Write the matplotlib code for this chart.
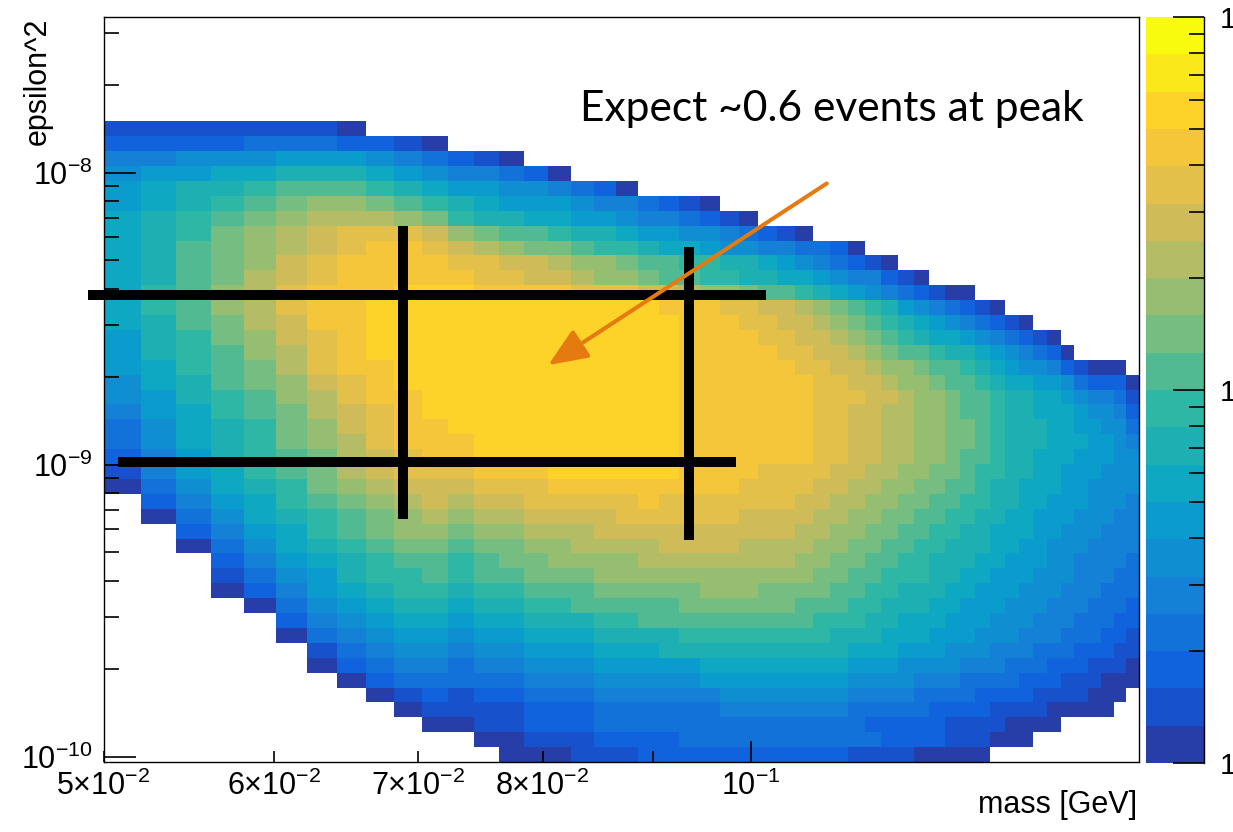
import numpy as np
import matplotlib
matplotlib.use('Agg')
import matplotlib.pyplot as plt
from matplotlib.colors import ListedColormap, LinearSegmentedColormap, LogNorm
from matplotlib.ticker import NullFormatter

plt.rcParams['font.family'] = ['Liberation Sans', 'DejaVu Sans']
plt.rcParams['mathtext.fontset'] = 'custom'
plt.rcParams['mathtext.rm'] = 'Liberation Sans'
plt.rcParams['mathtext.it'] = 'Liberation Sans:italic'
plt.rcParams['mathtext.bf'] = 'Liberation Sans:bold'

# binning of the 2D histogram (mass linear bins, epsilon^2 log bins)
mass_range = (0.05, 0.1515)
n_mass_bins = 50
eps2_range = (9.58e-11, 3.41e-8)
n_eps2_bins = 50

# colour level of each cell, highest filled row first,
# one character per mass bin: '.' = empty, 0-9 then a-h = palette level 0..17
# (20 log levels between 1e-2 and 1)
level_rows = [
    "11111110",
    "22223332210",
    "44555666543210",
    "5667788876544320",
    "67889aaa98766554320",
    "6789abccba9876665443210",
    "789abcdddcb98877665443210",
    "789bcdefffecbaa9887665543210",
    "78abcdefggfedcbba99877655443320",
    "78abcefggggffeedccbaa998876543210",
    "78abdefgggggffeedccbaa9988776544210",
    "79acdfggghhhggggfffeedccbaa98765432100",
    "79acdfgghhhhhhhhhhhhgggffeedcba986543210",
    "78abdegghhhhhhhhhhhhhgggffeedcba9876543210",
    "689bcefghhhhhhhhhhhhhggggffeedcba98776543210",
    "689acdfghhhhhhhhhhhhhgggggffeedcbaa9887654320",
    "679abdfgghhhhhhhhhhhhggggggffeedccbaa987655421000",
    "578abcefghhhhhhhhhhhhgggggggffeedccbaa987766532220",
    "5689acdfgghhhhhhhhhhhgggggggfffeedccbaa98877654431",
    "4679abdefghhhhhhhhhhhgggggggffeeddccbaa98877765542",
    "35789bcefgghhhhhhhhhhgggggggffeeddccbba98887766553",
    "35789bcdfggghhhhhhhhhgggggggffeeddccbba98887776654",
    "24689abdefgghhhhhhhhhgggggggffeeddccbaa98877766655",
    "14679abdefffggghhhhhhggggffffeeddccbba998877666555",
    "035789bcdeeefffgggggggggffffeeddccbbaa988777665555",
    ".24679abcdedeefffffgfffffffeeddccbbaa9988776665554",
    ".035789abcdcddeeeeffffffeeeeddccbbaa99887766655544",
    "..24679abccbccdddeeeeeeeeeeddccbbaa998877766555444",
    "..035789abbabbccddddeeeeddddccbbaa9988877665554444",
    "...246789aa9abbccccddddddddccbbaa99888776665544443",
    "...1356899a9aabbbcccccccccccbbaa999887766655544433",
    "...02467899899aaabbbbbcccbbbbaa9988877666555444333",
    "....035678878899aaaaabbbbbbaaa99888776665554443332",
    ".....24567767788899aaaaaaaaa9998877766655544433322",
    ".....034566566777888899999999888777666555444333221",
    "......13455455666777888888888877766655544433322211",
    "......02344344555666667777777766655554443332221110",
    ".......0233333444555556666666655554443333222111000",
    "........01212233344444455555554444333322221111000",
    ".........011112223333334444444333332222111100000",
    "..........0011222333333333333332222211110000",
    "............001112222333333333332222111000",
    ".............000111222222222221111" "00000",
]

level_chars = '0123456789abcdefghij'

# ROOT kBird palette
bird_stops = [0.0, 0.125, 0.25, 0.375, 0.5, 0.625, 0.75, 0.875, 1.0]
bird_red = [0.2082, 0.0592, 0.0780, 0.0232, 0.1802, 0.5301, 0.8186, 0.9956, 0.9764]
bird_green = [0.1664, 0.3599, 0.5041, 0.6419, 0.7178, 0.7492, 0.7328, 0.7862, 0.9832]
bird_blue = [0.5293, 0.8684, 0.8385, 0.7914, 0.6425, 0.4662, 0.3499, 0.1968, 0.0539]

z = np.full((n_eps2_bins, n_mass_bins), np.nan)
top_row = len(level_rows) - 1
for i, row in enumerate(level_rows):
    for c, ch in enumerate(row):
        if ch != '.':
            z[top_row - i, c] = 10 ** (-2 + (level_chars.index(ch) + 0.5) * 0.1)

bird = LinearSegmentedColormap.from_list(
    'bird', list(zip(bird_stops, zip(bird_red, bird_green, bird_blue))))
cmap = ListedColormap([bird((k + 0.99) / 20) for k in range(20)])
norm = LogNorm(vmin=1e-2, vmax=1)

mass_edges = np.linspace(mass_range[0], mass_range[1], n_mass_bins + 1)
eps2_edges = np.logspace(np.log10(eps2_range[0]), np.log10(eps2_range[1]), n_eps2_bins + 1)

fig = plt.figure(figsize=(12.33, 8.32), dpi=100)
W, H = 1233, 832
ax = fig.add_axes([103.5 / W, 1 - 762 / H, (1139 - 103.5) / W, (762 - 17) / H])
cax = fig.add_axes([1146 / W, 1 - 763 / H, (1204 - 1146) / W, (763 - 17) / H])

mesh = ax.pcolormesh(mass_edges, eps2_edges, np.ma.masked_invalid(z),
                     cmap=cmap, norm=norm, antialiased=False, edgecolors='none')
ax.set_xscale('log')
ax.set_yscale('log')
ax.set_xlim(mass_range)
ax.set_ylim(eps2_range)

# axis ticks, ROOT style (inside, left and bottom only)
ax.set_xticks([0.1], labels=[r'$10^{-1}$'])
ax.set_xticks([0.05, 0.06, 0.07, 0.08, 0.09],
              labels=[r'$5{\times}10^{-2}$', r'$6{\times}10^{-2}$', r'$7{\times}10^{-2}$',
                      r'$8{\times}10^{-2}$', ''], minor=True)
ax.set_yticks([1e-10, 1e-9, 1e-8], labels=[r'$10^{-10}$', r'$10^{-9}$', r'$10^{-8}$'])
y_minor = [k * 10.0 ** e for e in (-10, -9, -8) for k in range(2, 10)
           if k * 10.0 ** e < eps2_range[1]]
ax.set_yticks(y_minor, minor=True)
ax.yaxis.set_minor_formatter(NullFormatter())
ax.tick_params(which='both', direction='in', top=False, right=False,
               labelsize=22, width=1.2, color='black')
ax.tick_params(axis='y', which='major', length=23, pad=8)
ax.tick_params(axis='y', which='minor', length=11)
ax.tick_params(axis='x', which='major', length=15, pad=6)
ax.tick_params(axis='x', which='minor', length=8, pad=6)
for sp in ax.spines.values():
    sp.set_linewidth(1.0)

# colour scale
cb = fig.colorbar(mesh, cax=cax)
cb.outline.set_visible(False)
cax.set_yticks([0.01, 0.1, 1], labels=['1', '1', '1'])
cax.set_yticks([k * 10.0 ** e for e in (-2, -1) for k in range(2, 10)], minor=True)
cax.yaxis.set_minor_formatter(NullFormatter())
cax.tick_params(which='both', direction='in', left=False, right=True,
                labelsize=21, pad=11, width=1.2)
cax.tick_params(which='major', length=22)
cax.tick_params(which='minor', length=11)
cax.plot([1, 1], [0, 1], transform=cax.transAxes, color='black', lw=1.0, clip_on=False)

# axis titles
fig.text(38 / W, 1 - 18 / H, 'epsilon^2', rotation=90, ha='center', va='top', fontsize=22)
fig.text(1137 / W, 1 - 790 / H, 'mass [GeV]', ha='right', va='top', fontsize=22)

# hand-drawn cross marks on the slide
cross_h = [(3.81e-9, 0.04917, 0.1016), (1.02e-9, 0.05078, 0.09842)]
cross_v = [(0.06892, 6.51e-10, 6.56e-9), (0.09356, 5.51e-10, 5.56e-9)]
for y, x0, x1 in cross_h:
    ax.plot([x0, x1], [y, y], color='black', lw=7.2, solid_capstyle='butt', clip_on=False)
for x, y0, y1 in cross_v:
    ax.plot([x, x], [y0, y1], color='black', lw=7.2, solid_capstyle='butt', clip_on=False)

# annotation arrow and note
arrow_tail = (0.10846, 9.18e-9)
arrow_head = (0.08049, 2.19e-9)
ax.annotate('', xy=arrow_head, xytext=arrow_tail, annotation_clip=False,
            arrowprops=dict(arrowstyle='-|>,head_length=1.2,head_width=0.5',
                            color='#e57a10', lw=2.9, shrinkA=0, shrinkB=0,
                            mutation_scale=20))
fig.text(580 / W, 1 - 121 / H, 'Expect ~0.6 events at peak', fontfamily='Lato',
         fontsize=30.6, va='baseline', ha='left')

fig.savefig('out.png', dpi=100)
